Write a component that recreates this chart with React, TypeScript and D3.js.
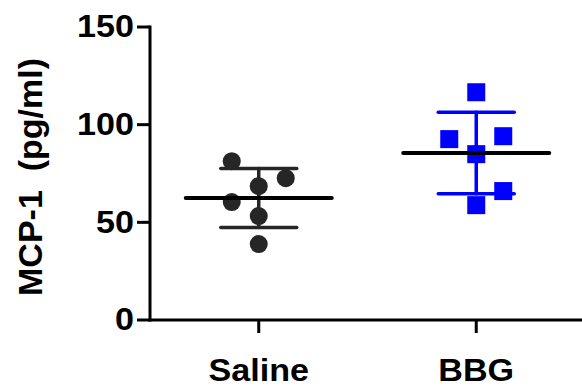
import React from 'react';
import * as d3 from 'd3';

// groups and the values (pg/ml)
const groups = ['Saline', 'BBG'];
const salineValues = [81.3, 72.6, 68.5, 60.4, 53.2, 38.9];
const bbgValues = [116.6, 94.1, 92.6, 84.9, 66.0, 58.8];
// horizontal jitter of each point (in units of the marker size)
const salineJitter = [-1.5, 1.5, 0, -1.5, 0, 0];
const bbgJitter = [0, 1.5, -1.5, 0, 1.5, 0];
const yTicks = [0, 50, 100, 150];
const groupColors = ['#262626', '#0000ff'];

const W = 582;
const H = 387;
const FONT = '"Liberation Sans", Arial, sans-serif';

const App = () => {
  const margin = { top: 27, right: 0, bottom: 67, left: 150 };

  const x = d3
    .scalePoint<string>()
    .domain(groups)
    .range([margin.left, W + 3])
    .padding(0.5);

  const y = d3
    .scaleLinear()
    .domain([0, 150])
    .range([H - margin.bottom, margin.top]);

  const series = [
    { name: 'Saline', values: salineValues, jitter: salineJitter, color: groupColors[0], shape: 'circle' },
    { name: 'BBG', values: bbgValues, jitter: bbgJitter, color: groupColors[1], shape: 'square' },
  ];

  const markerSize = 18;
  const meanHalf = 73;
  const sdHalf = 38;
  const y0 = y(0);

  return (
    <svg width={W} height={H} style={{ position: 'absolute', left: 0, top: 0, background: '#fff' }}>
      {/* y axis */}
      <line x1={margin.left} x2={margin.left} y1={y(150) - 1.5} y2={y0 + 1.5} stroke="#000" strokeWidth={3} />
      {yTicks.map(t => (
        <g key={t}>
          <line x1={margin.left - 13} x2={margin.left} y1={y(t)} y2={y(t)} stroke="#000" strokeWidth={3} />
          <text
            x={0}
            y={0}
            transform={`translate(${margin.left - 16}, ${y(t)}) scale(1.1,1)`}
            textAnchor="end"
            dominantBaseline="central"
            fontFamily={FONT}
            fontWeight="bold"
            fontSize={31}
          >
            {t}
          </text>
        </g>
      ))}
      <text
        transform={`translate(42, ${177}) rotate(-90)`}
        textAnchor="middle"
        fontFamily={FONT}
        fontWeight="bold"
        fontSize={34}
        style={{ whiteSpace: 'pre' }}
      >
        {'MCP-1  (pg/ml)'}
      </text>

      {/* x axis */}
      <line x1={margin.left - 1.5} x2={W} y1={y0} y2={y0} stroke="#000" strokeWidth={3} />
      {groups.map(g => (
        <g key={g}>
          <line x1={x(g)} x2={x(g)} y1={y0} y2={y0 + 13} stroke="#000" strokeWidth={3} />
          <text
            transform={`translate(${x(g)}, ${H - 6}) scale(1.1,1)`}
            textAnchor="middle"
            fontFamily={FONT}
            fontWeight="bold"
            fontSize={31}
          >
            {g}
          </text>
        </g>
      ))}

      {/* points, SD bars and means */}
      {series.map(s => {
        const cx = x(s.name) as number;
        const mean = d3.mean(s.values) as number;
        const sd = d3.deviation(s.values) as number;
        return (
          <g key={s.name}>
            {s.values.map((v, i) =>
              s.shape === 'circle' ? (
                <circle key={i} cx={cx + s.jitter[i] * markerSize} cy={y(v)} r={markerSize / 2} fill={s.color} />
              ) : (
                <rect
                  key={i}
                  x={cx + s.jitter[i] * markerSize - markerSize / 2}
                  y={y(v) - markerSize / 2}
                  width={markerSize}
                  height={markerSize}
                  fill={s.color}
                />
              )
            )}
            <g stroke={s.color} strokeWidth={3.5} strokeLinecap="round">
              <line x1={cx} x2={cx} y1={y(mean + sd)} y2={y(mean - sd)} />
              <line x1={cx - sdHalf} x2={cx + sdHalf} y1={y(mean + sd)} y2={y(mean + sd)} />
              <line x1={cx - sdHalf} x2={cx + sdHalf} y1={y(mean - sd)} y2={y(mean - sd)} />
            </g>
            <line
              x1={cx - meanHalf}
              x2={cx + meanHalf}
              y1={y(mean)}
              y2={y(mean)}
              stroke="#000"
              strokeWidth={4}
              strokeLinecap="round"
            />
          </g>
        );
      })}
    </svg>
  );
};

export default App;
